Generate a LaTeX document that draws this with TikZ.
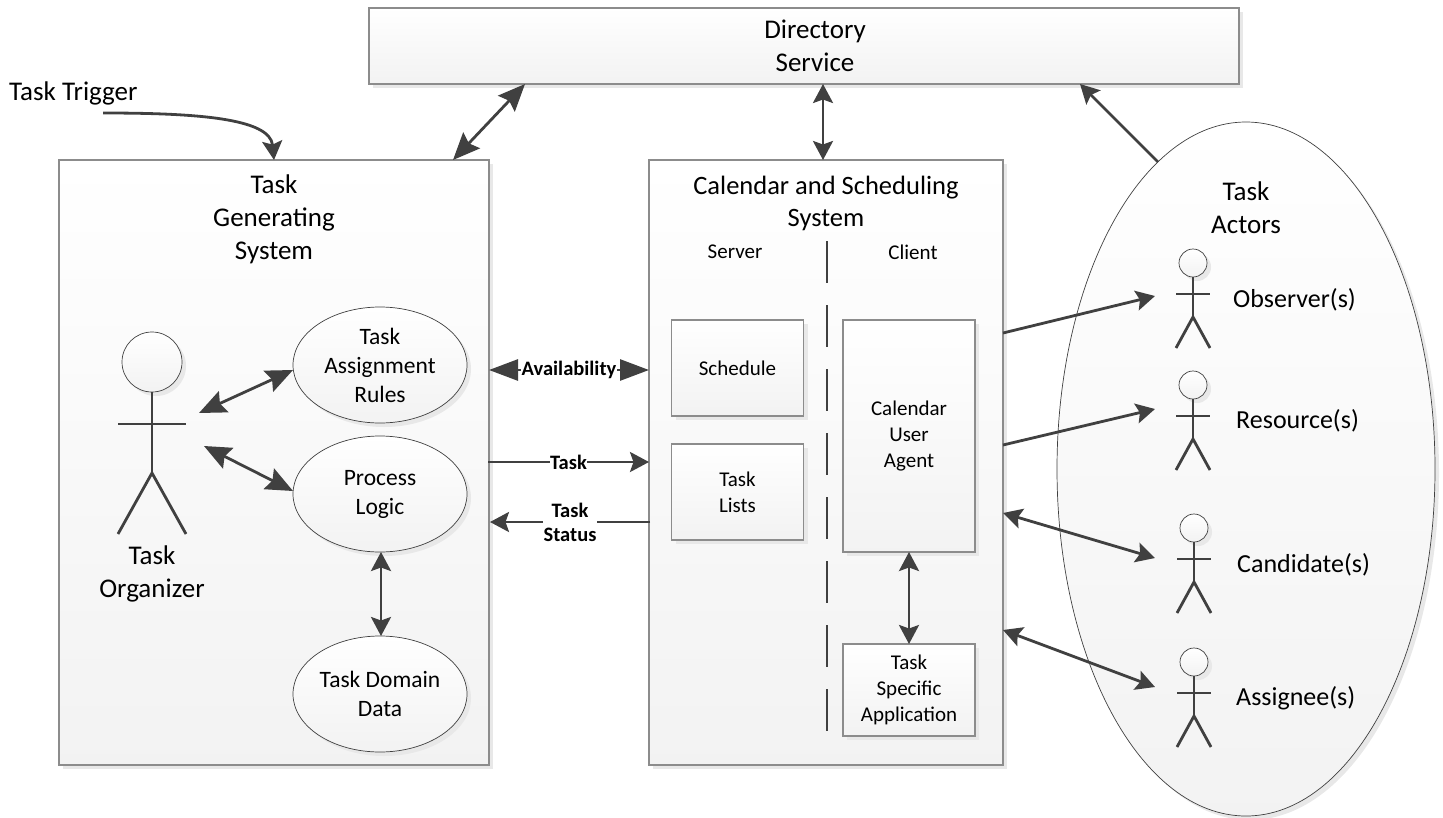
\documentclass[tikz,border=0pt]{standalone}
\usepackage{fontspec}
\setmainfont{Carlito}
\usepackage{tikz}
\usetikzlibrary{calc, positioning, arrows.meta, shapes.geometric, shadows}

\definecolor{linegray}{HTML}{404040}
\definecolor{edgegray}{HTML}{8C8C8C}
\newcommand{\bigfont}{\fontsize{27}{33}\selectfont}
\newcommand{\actorfont}{\fontsize{26}{32}\selectfont}
\newcommand{\midfont}{\fontsize{23.5}{29}\selectfont}
\newcommand{\smallfont}{\fontsize{21}{26}\selectfont}
\newcommand{\tagfont}{\fontsize{20.5}{24}\selectfont\bfseries}

\tikzset{
  softfill/.style={top color=white, bottom color=black!5,
    general shadow={fill=black!9, shadow xshift=4pt, shadow yshift=-4pt}},
  sysbox/.style={rectangle, draw=edgegray, line width=1.6, softfill, inner sep=0, outer sep=0, align=center},
  usecase/.style={ellipse, draw=linegray, line width=0.7, softfill, inner sep=0, outer sep=0, align=center,
    minimum width=174pt, minimum height=116pt, font=\midfont},
  head/.style={circle, draw=linegray, line width=0.7, softfill, inner sep=0, outer sep=0},
  caption/.style={align=center, inner sep=0, font=\bigfont},
  actorcaption/.style={anchor=west, inner sep=0, font=\actorfont},
  figure/.style={draw=linegray, line width=2.8},
  oneway/.style={draw=linegray, line width=2.8, -{Stealth[length=19pt,width=20pt,inset=3.5pt]}},
  twoway/.style={draw=linegray, line width=2.8,
    {Stealth[length=19pt,width=20pt,inset=3.5pt]}-{Stealth[length=19pt,width=20pt,inset=3.5pt]}},
  bigway/.style={draw=linegray, line width=2.8,
    {Stealth[length=27pt,width=23pt,inset=4pt]}-{Stealth[length=27pt,width=23pt,inset=4pt]}},
  availway/.style={draw=linegray, line width=2.8,
    {Stealth[length=29pt,width=21pt,inset=0pt]}-{Stealth[length=29pt,width=21pt,inset=0pt]}},
  tag/.style={midway, fill=white, inner sep=0.5pt, align=center, font=\tagfont}
}

\newcommand{\smallactor}[1]{
  \draw[figure] (#1.south) -- ($(#1)+(0,54)$);
  \draw[figure] ($(#1)+(-17,31)$) -- ($(#1)+(17,31)$);
  \draw[figure] ($(#1)+(-17,85)$) -- ($(#1)+(0,54)$) -- ($(#1)+(17,85)$);
}

\begin{document}
\begin{tikzpicture}
      [x=1pt, y=-1pt]
      \useasboundingbox (0,0) rectangle (1443,817);

      % nodes %
      \node[sysbox, minimum width=870pt, minimum height=76pt, font=\bigfont] (dirsvc) at (804,46) {\hspace{22pt}Directory\\\hspace{22pt}Service};
      \node[caption, anchor=west] (trigger) at (9,93) {Task Trigger};

      \node[sysbox, minimum width=430pt, minimum height=605pt] (gensys) at (274,462.5) {};
      \node[caption] (gentitle) at (274,219) {Task\\Generating\\System};
      \node[head, minimum size=60pt] (orghead) at (152,362) {};
      \node[caption] (orglabel) at (152,574) {Task\\Organizer};
      \node[usecase] (rules) at (380,365) {Task\\Assignment\\Rules};
      \node[usecase] (logic) at (380,494) {Process\\Logic};
      \node[usecase] (domain) at (380,694) {Task Domain\\Data};

      \node[sysbox, minimum width=354pt, minimum height=605pt] (calsys) at (826,462.5) {};
      \node[caption, font=\fontsize{26.5}{32}\selectfont] (caltitle) at (826,203) {Calendar and Scheduling\\System};
      \node[inner sep=0, font=\smallfont] (server) at (735,252) {Server};
      \node[inner sep=0, font=\smallfont] (client) at (913,252) {Client};
      \node[sysbox, minimum width=132pt, minimum height=96pt, font=\smallfont] (schedule) at (737.5,368) {Schedule};
      \node[sysbox, minimum width=132pt, minimum height=96pt, font=\smallfont] (lists) at (737.5,492) {Task\\Lists};
      \node[sysbox, minimum width=132pt, minimum height=232pt, font=\smallfont] (agent) at (909,436) {Calendar\\User\\Agent};
      \node[sysbox, minimum width=132pt, minimum height=92pt, font=\smallfont] (taskapp) at (909,690) {Task\\Specific\\Application};
      \coordinate (divtop) at (827,241);
      \coordinate (divbot) at (827,731);

      \node[ellipse, draw=linegray, line width=0.7, softfill, inner sep=0, outer sep=0,
        minimum width=378pt, minimum height=694pt] (actors) at (1246,469) {};
      \node[caption] (actortitle) at (1246,208) {Task\\Actors};
      \node[head, minimum size=28pt] (obshead) at (1193,263) {};
      \node[head, minimum size=28pt] (reshead) at (1193,385) {};
      \node[head, minimum size=28pt] (canhead) at (1194,528) {};
      \node[head, minimum size=28pt] (asghead) at (1194,662) {};
      \node[actorcaption] (obslabel) at (1233,300) {Observer(s)};
      \node[actorcaption] (reslabel) at (1236,421) {Resource(s)};
      \node[actorcaption] (canlabel) at (1237,565) {Candidate(s)};
      \node[actorcaption] (asglabel) at (1236,698) {Assignee(s)};

      \coordinate (trigstart) at (103,113);
      \coordinate (orgtop) at (199,413);
      \coordinate (orgbot) at (204,446);
      \coordinate (obsport) at (1155,296);
      \coordinate (resport) at (1155,409);
      \coordinate (canport) at (1155,558);
      \coordinate (asgport) at (1155,687);

      % figures %
      \draw[figure] (orghead.south) -- (152,473);
      \draw[figure] (118,424) -- (186,424);
      \draw[figure] (118,534) -- (152,473) -- (186,534);
      \smallactor{obshead}
      \smallactor{reshead}
      \smallactor{canhead}
      \smallactor{asghead}

      % edges %
      \draw[oneway] (trigstart) .. controls (195,113) and (270,118) .. (gensys.north);
      \draw[bigway] (gensys.north east |- gensys.north) ++(-36,0) -- ($(dirsvc.south west)+(156,0)$);
      \draw[twoway] (calsys.north -| 823,0) -- (dirsvc.south -| 823,0);
      \draw[oneway] (actors.106) -- ($(dirsvc.south east)+(-159,0)$);

      \draw[bigway] (orgtop) -- (rules.west |- 0,370);
      \draw[bigway] (orgbot) -- (logic.west |- 0,491);
      \draw[twoway] (logic.south -| 381,0) -- (domain.north -| 381,0);

      \draw[availway] (gensys.east |- 0,370) -- node[tag] (availtag) {Availability} (calsys.west |- 0,370);
      \draw[oneway] (488,462) -- node[tag] (tasktag) {Task} (649,462);
      \draw[oneway] (650,522) -- node[tag] (statustag) {Task\\Status} (490,522);

      \draw[twoway] (agent.south) -- (taskapp.north);
      \draw[figure, dash pattern=on 42pt off 22pt] (divtop) -- (divbot);

      \draw[oneway] (calsys.east |- 0,333) -- (obsport);
      \draw[oneway] (calsys.east |- 0,445) -- (resport);
      \draw[twoway] (calsys.east |- 0,513) -- (canport);
      \draw[twoway] (calsys.east |- 0,630) -- (asgport);

    \end{tikzpicture}
\end{document}
